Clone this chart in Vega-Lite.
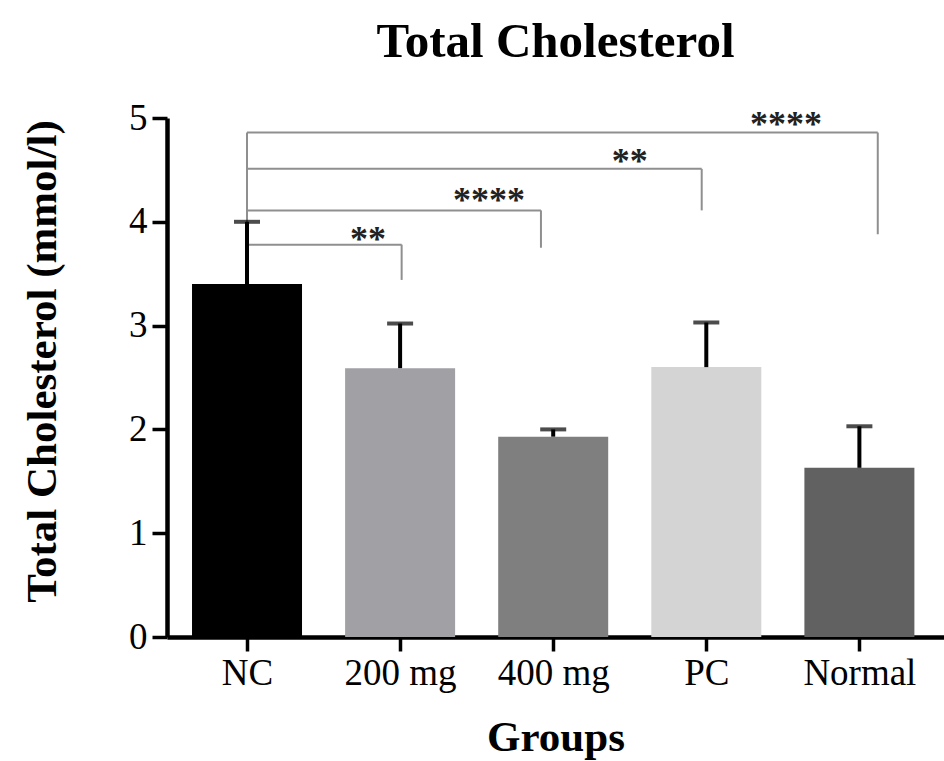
{
  "$schema": "https://vega.github.io/schema/vega-lite/v6.json",
  "width": 777,
  "height": 519,
  "autosize": {"type": "none"},
  "padding": {"left": 167, "top": 118, "right": 0, "bottom": 124},
  "background": "white",
  "title": {
    "text": "Total Cholesterol",
    "font": "Liberation Serif",
    "fontSize": 49,
    "fontWeight": "bold",
    "color": "black",
    "anchor": "middle",
    "baseline": "alphabetic",
    "offset": -7
  },
  "config": {
    "view": {"stroke": null},
    "axis": {
      "grid": false,
      "domainColor": "black",
      "tickColor": "black",
      "labelColor": "black",
      "titleColor": "black",
      "labelFont": "Liberation Serif",
      "titleFont": "Liberation Serif",
      "labelFontSize": 37,
      "titleFontSize": 43,
      "titleFontWeight": "bold",
      "domainWidth": 4.5,
      "tickWidth": 3.5,
      "tickSize": 14
    }
  },
  "datasets": {
    "groups": [
      {"idx": 0, "group": "NC", "mean": 3.40, "upper": 4.00},
      {"idx": 1, "group": "200 mg", "mean": 2.59, "upper": 3.02},
      {"idx": 2, "group": "400 mg", "mean": 1.93, "upper": 2.00},
      {"idx": 3, "group": "PC", "mean": 2.60, "upper": 3.03},
      {"idx": 4, "group": "Normal", "mean": 1.63, "upper": 2.03}
    ],
    "brackets": [
      {"vs": "200 mg", "from": 0, "to": 1.01, "level": 3.78, "end": 3.44, "stars": "**", "starX": 0.79, "starY": 3.88},
      {"vs": "400 mg", "from": 0, "to": 1.92, "level": 4.11, "end": 3.75, "stars": "****", "starX": 1.58, "starY": 4.26},
      {"vs": "PC", "from": 0, "to": 2.97, "level": 4.51, "end": 4.11, "stars": "**", "starX": 2.50, "starY": 4.63},
      {"vs": "Normal", "from": 0, "to": 4.12, "level": 4.86, "end": 3.88, "stars": "****", "starX": 3.52, "starY": 4.99}
    ]
  },
  "layer": [
    {
      "data": {"name": "brackets"},
      "mark": {"type": "rule", "color": "#8f8f8f", "strokeWidth": 2},
      "encoding": {
        "x": {"field": "from", "type": "quantitative"},
        "y": {"aggregate": "min", "field": "level", "type": "quantitative"},
        "y2": {"aggregate": "max", "field": "level"}
      }
    },
    {
      "data": {"name": "brackets"},
      "mark": {"type": "rule", "color": "#8f8f8f", "strokeWidth": 2},
      "encoding": {
        "x": {"field": "from", "type": "quantitative"},
        "x2": {"field": "to"},
        "y": {"field": "level", "type": "quantitative"}
      }
    },
    {
      "data": {"name": "brackets"},
      "mark": {"type": "rule", "color": "#8f8f8f", "strokeWidth": 2},
      "encoding": {
        "x": {"field": "to", "type": "quantitative"},
        "y": {"field": "level", "type": "quantitative"},
        "y2": {"field": "end"}
      }
    },
    {
      "data": {"name": "groups"},
      "mark": {"type": "bar", "size": 110},
      "encoding": {
        "x": {
          "field": "idx",
          "type": "quantitative",
          "scale": {"domain": [-0.49, 4.52], "nice": false, "zero": false},
          "axis": {
            "values": [0, 1, 2, 3, 4],
            "labelExpr": "['NC','200 mg','400 mg','PC','Normal'][datum.value]",
            "title": "Groups",
            "labelPadding": 4,
            "titlePadding": 25,
            "labelFlush": false,
            "labelOverlap": false
          }
        },
        "y": {
          "field": "mean",
          "type": "quantitative",
          "scale": {"domain": [0, 5], "nice": false},
          "axis": {
            "values": [0, 1, 2, 3, 4, 5],
            "format": "d",
            "title": "Total Cholesterol (mmol/l)",
            "tickSize": 15,
            "labelPadding": 5,
            "titlePadding": 64,
            "titleY": 243
          }
        },
        "color": {
          "field": "group",
          "type": "nominal",
          "scale": {
            "domain": ["NC", "200 mg", "400 mg", "PC", "Normal"],
            "range": ["#000000", "#a0a0a5", "#7f7f7f", "#d4d4d4", "#616161"]
          },
          "legend": null
        }
      }
    },
    {
      "data": {"name": "groups"},
      "mark": {"type": "rule", "color": "black", "strokeWidth": 4},
      "encoding": {
        "x": {"field": "idx", "type": "quantitative"},
        "y": {"field": "mean", "type": "quantitative"},
        "y2": {"field": "upper"}
      }
    },
    {
      "data": {"name": "groups"},
      "mark": {"type": "tick", "color": "black", "orient": "horizontal", "size": 26, "thickness": 4},
      "encoding": {
        "x": {"field": "idx", "type": "quantitative"},
        "y": {"field": "upper", "type": "quantitative"}
      }
    },
    {
      "data": {"name": "brackets"},
      "mark": {"type": "text", "font": "Liberation Serif", "fontSize": 36, "fontWeight": "bold", "color": "#222222", "baseline": "alphabetic", "align": "center", "dy": 17},
      "encoding": {
        "x": {"field": "starX", "type": "quantitative"},
        "y": {"field": "starY", "type": "quantitative"},
        "text": {"field": "stars"}
      }
    }
  ]
}
